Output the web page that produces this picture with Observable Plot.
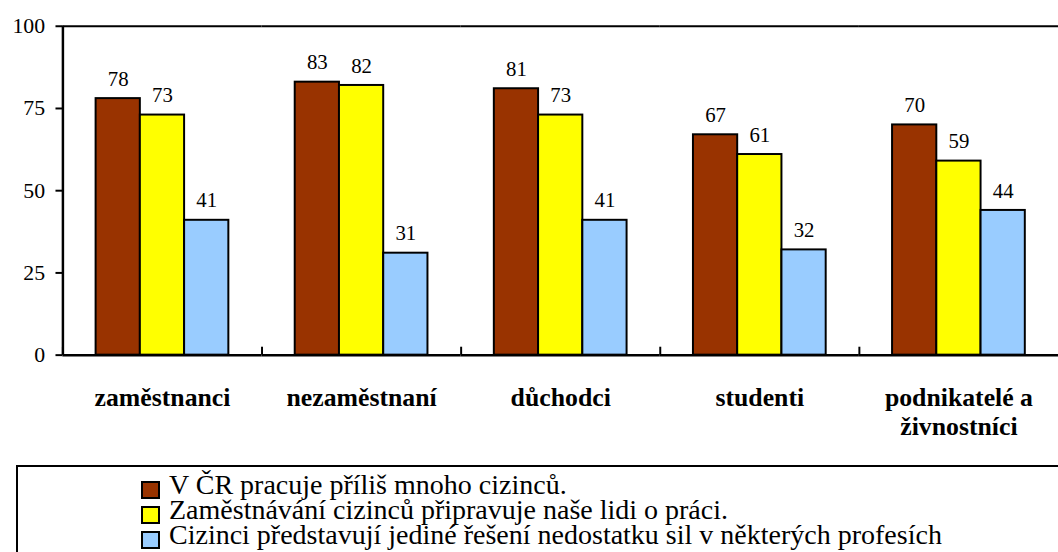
<!DOCTYPE html>
<html><head><meta charset="utf-8">
<script src="https://cdn.jsdelivr.net/npm/d3@7"></script>
<script src="https://cdn.jsdelivr.net/npm/@observablehq/plot@0.6"></script>
<style>
  @font-face { font-family: "ChartSerif"; src: local("Liberation Serif"), local("LiberationSerif"); font-weight: normal; }
  @font-face { font-family: "ChartSerif"; src: local("Liberation Serif Bold"), local("LiberationSerif-Bold"); font-weight: bold; }
</style>
</head><body style="margin:0;font-family:'Liberation Serif'">
<div id="wrap" style="position:relative;width:1058px;height:552px;overflow:hidden;font-family:'Liberation Serif'"></div>
<script>
const categories = ["zaměstnanci", "nezaměstnaní", "důchodci", "studenti", "podnikatelé a živnostníci"];
const categoryLabels = ["zaměstnanci", "nezaměstnaní", "důchodci", "studenti", "podnikatelé a\nživnostníci"];
const series = [
  "V ČR pracuje příliš mnoho cizinců.",
  "Zaměstnávání cizinců připravuje naše lidi o práci.",
  "Cizinci představují jediné řešení nedostatku sil v některých profesích"
];
const colors = ["#993300", "#FFFF00", "#99CCFF"];
const valuesTooMany = [78, 83, 81, 67, 70];
const valuesTakeJobs = [73, 82, 73, 61, 59];
const valuesOnlySolution = [41, 31, 41, 32, 44];
const yTicks = [0, 25, 50, 75, 100];

const seriesValues = [valuesTooMany, valuesTakeJobs, valuesOnlySolution];
const rows = [];
categories.forEach((c, ci) => {
  series.forEach((s, si) => {
    rows.push({cat: c, series: s, si, value: seriesValues[si][ci]});
  });
});

const gap = 0.75; // outer gap of each group, in bar widths
const FONT = "'Liberation Serif', ChartSerif, 'Times New Roman', serif";

const chart = Plot.plot({
  width: 1068,
  height: 465,
  marginLeft: 62,
  marginRight: 0,
  marginTop: 26,
  marginBottom: 107,
  style: {fontFamily: "Liberation Serif", fontSize: "22px", color: "black", background: "white"},
  fx: {domain: categories, padding: 0},
  x: {domain: [-gap, series.length + gap], axis: null},
  y: {domain: [0, 100]},
  color: {domain: series, range: colors},
  marks: [
    Plot.rectY(rows, {fx: "cat", x1: d => d.si, x2: d => d.si + 1, y: "value", fill: "series", stroke: "black", strokeWidth: 2}),
    Plot.text(rows, {fx: "cat", x: d => d.si + 0.5, y: "value", text: d => String(d.value), lineAnchor: "bottom", dy: -13, fontSize: 21, fill: "black"}),
    Plot.ruleY([100], {stroke: "black", strokeWidth: 2}),
    Plot.ruleY([0], {stroke: "black", strokeWidth: 2.5}),
    Plot.ruleX([-gap], {y1: 0, y2: 100, stroke: "black", strokeWidth: 2.5, facetAnchor: "left"}),
    Plot.ruleX([-gap], {y1: 0, y2: 0, insetTop: -8, stroke: "black", strokeWidth: 2}),
    Plot.axisY({ticks: yTicks, tickSize: 7, tickPadding: 11, fontSize: 22, strokeWidth: 2, label: null}),
    Plot.axisFx({anchor: "bottom", tickSize: 0, tickPadding: 30, fontSize: 26, fontWeight: "bold", lineHeight: 1.15,
                 tickFormat: c => categoryLabels[categories.indexOf(c)], label: null})
  ]
});
d3.select(chart).style("font-family", FONT, "important");
d3.select(chart).selectAll("text, tspan, g").style("font-family", FONT, "important");

const wrap = d3.select("#wrap");
wrap.node().appendChild(chart);

const legend = wrap.append("div")
  .style("position", "absolute").style("left", "16px").style("top", "465px")
  .style("width", "1100px").style("height", "120px").style("border", "2px solid black")
  .style("box-sizing", "border-box").style("font-family", FONT, "important");
series.forEach((s, i) => {
  const item = legend.append("div")
    .style("position", "absolute").style("left", "123px").style("top", (5 + i * 25) + "px")
    .style("height", "25px").style("line-height", "25px").style("font-size", "28px")
    .style("white-space", "nowrap").style("color", "black");
  item.append("div")
    .style("position", "absolute").style("left", "0px").style("top", "9px")
    .style("width", "15px").style("height", "14px").style("border", "2px solid black")
    .style("background", colors[i]);
  item.append("div")
    .style("position", "absolute").style("left", "28px").style("top", "0px")
    .style("font-family", FONT, "important")
    .text(s);
});
</script>
</body></html>
